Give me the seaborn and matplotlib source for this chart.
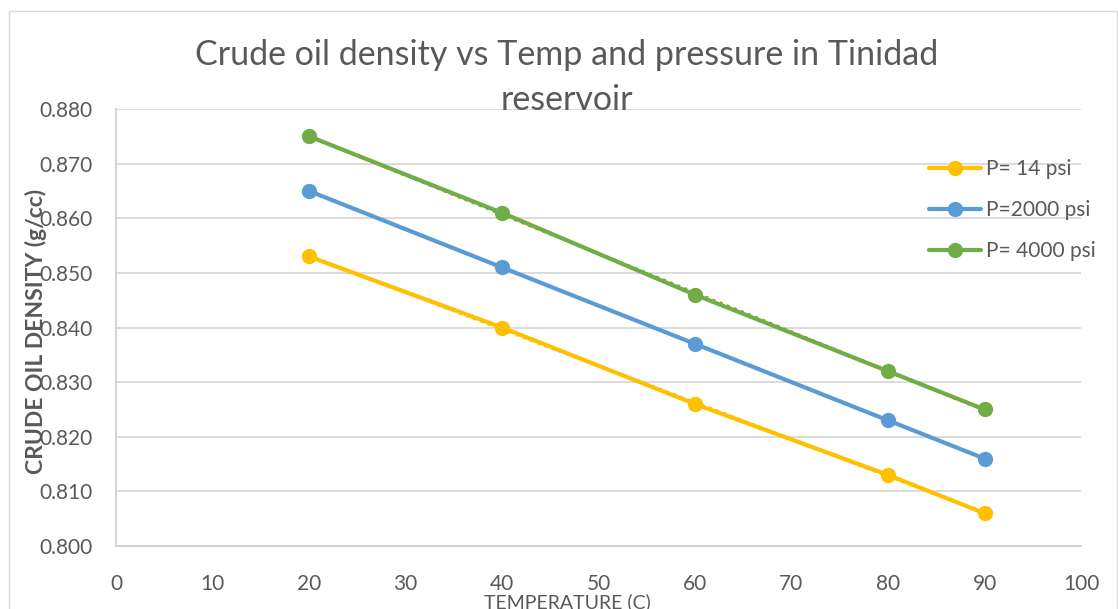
import numpy as np
import pandas as pd
import matplotlib
matplotlib.use("Agg")
import matplotlib.pyplot as plt
import seaborn as sns
from matplotlib.lines import Line2D
from matplotlib.patches import Rectangle

temps = [20, 40, 60, 80, 90]
p14 = [0.853, 0.840, 0.826, 0.813, 0.806]
p2000 = [0.865, 0.851, 0.837, 0.823, 0.816]
p4000 = [0.875, 0.861, 0.846, 0.832, 0.825]
series_names = ["P= 14 psi", "P=2000 psi", "P= 4000 psi"]
colors = ["#FFC000", "#5B9BD5", "#70AD47"]
x_ticks = list(range(0, 101, 10))
y_ticks = [0.800, 0.810, 0.820, 0.830, 0.840, 0.850, 0.860, 0.870, 0.880]

rows = []
for name, vals in zip(series_names, [p14, p2000, p4000]):
    for t, v in zip(temps, vals):
        rows.append({"Temperature": t, "Density": v, "Series": name})
df = pd.DataFrame(rows)

sns.set_theme(style="white")
plt.rcParams['font.family'] = ['Lato', 'DejaVu Sans']
txt = "#595959"

fig = plt.figure(figsize=(11.18, 6.09), dpi=100)
fig.patch.set_facecolor("white")
fig.add_artist(Rectangle((9/1118, -0.01), (1117-9)/1118, 1 - 11/609 + 0.01,
                         transform=fig.transFigure, fill=False,
                         edgecolor="#D9D9D9", linewidth=1.0))
ax = fig.add_axes([116/1118, 1 - 546/609, (1081-116)/1118, (546-109)/609])

palette = dict(zip(series_names, colors))
sns.lineplot(data=df, x="Temperature", y="Density", hue="Series",
             palette=palette, marker="o", markersize=11, markeredgewidth=0,
             linewidth=3, ax=ax, legend=False, zorder=3)

# dotted linear trendlines
for name, vals, c in zip(series_names, [p14, p2000, p4000], colors):
    if name == "P=2000 psi":
        continue
    k, b = np.polyfit(temps, vals, 1)
    xs = np.array([temps[0], temps[-1]])
    ax.plot(xs, k * xs + b, color=c, linestyle=(0, (1, 1.5)), linewidth=2.2,
            zorder=2.5)

ax.set_xlim(0, 100)
ax.set_ylim(0.800, 0.880)
ax.set_xticks(x_ticks)
ax.set_yticks(y_ticks)
ax.set_yticklabels([f"{v:.3f}" for v in y_ticks])
ax.tick_params(axis='both', length=0, labelsize=15, labelcolor=txt)
ax.tick_params(axis='x', pad=20)
ax.tick_params(axis='y', pad=17)
ax.grid(axis='y', color="#D9D9D9", linewidth=1.3)
ax.grid(axis='x', visible=False)
for s in ["top", "right"]:
    ax.spines[s].set_visible(False)
for s in ["left", "bottom"]:
    ax.spines[s].set_color("#D0D0D0")
    ax.spines[s].set_linewidth(1.3)
ax.set_facecolor("none")

ax.set_xlabel("TEMPERATURE (C)", fontsize=14, color=txt, labelpad=0)
ax.xaxis.set_label_coords(0.468, -0.108)
ax.set_ylabel("CRUDE OIL DENSITY (g/cc)", fontsize=16.5, color=txt,
              fontweight="bold", labelpad=0)
ax.yaxis.set_label_coords(-0.071, 0.49)

fig.text(567/1118, 1 - 55/609, "Crude oil density vs Temp and pressure in Tinidad",
         ha="center", va="center", fontsize=24.5, color=txt)
fig.text(567/1118, 1 - 100/609, "reservoir",
         ha="center", va="center", fontsize=24.5, color=txt)

handles = [Line2D([0], [0], color=c, linewidth=3, marker="o", markersize=11,
                  markeredgewidth=0) for c in colors]
fig.legend(handles, series_names, loc="center left",
           bbox_to_anchor=(929/1118, 1 - 210/609), frameon=False,
           fontsize=15, labelcolor=txt, handlelength=2.5, handletextpad=0.25,
           labelspacing=1.0, borderaxespad=0, borderpad=0)

fig.savefig("out.png", dpi=100, facecolor="white")
